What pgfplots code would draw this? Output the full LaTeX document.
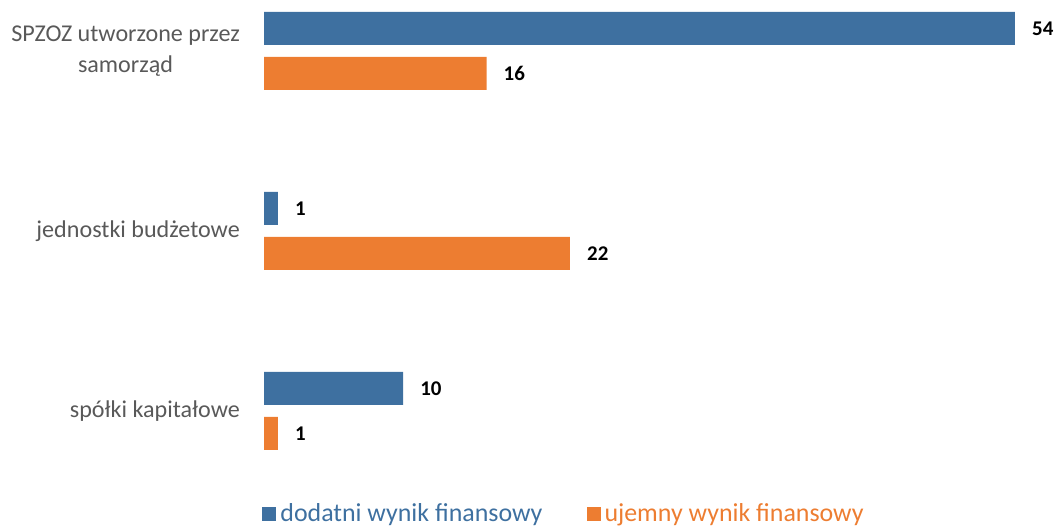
\documentclass[border=0pt]{standalone}
\usepackage{pgfplots}
\pgfplotsset{compat=1.18}
\usepackage{fontspec}
\setmainfont{Carlito}
\definecolor{cblue}{RGB}{62,112,160}
\definecolor{corange}{RGB}{237,125,49}
\definecolor{cgray}{RGB}{89,89,89}
\begin{document}
\begin{tikzpicture}[x=1bp,y=1bp]
\useasboundingbox (0,0) rectangle (1057,531);
\begin{axis}[
  at={(264bp,75bp)}, anchor=south west,
  scale only axis, width=792.7bp, height=450bp,
  xbar, xmin=0, xmax=57, ymin=-0.25, ymax=2.25, y dir=reverse,
  axis line style={draw=none}, xtick=\empty,
  ytick={0,1,2},
  yticklabels={{SPZOZ utworzone przez\\samorząd},{jednostki budżetowe},{spółki kapitałowe}},
  major tick length=0pt,
  bar width=33bp,
  yticklabel style={font=\fontsize{24.2}{31}\selectfont, text=cgray, align=center, inner sep=0pt, xshift=-24bp},
  nodes near coords,
  nodes near coords style={font=\bfseries\fontsize{21}{24}\selectfont, text=black, anchor=west, inner sep=0pt, xshift=17bp, /pgf/number format/assume math mode=true},
  legend style={at={(0.3785,-0.128)}, anchor=center, draw=none, fill=none, legend columns=2,
    font=\fontsize{26}{29}\selectfont,
    /tikz/every even column/.append style={column sep=42bp}},
  legend image code/.code={\fill[#1, draw=none] (0bp,-7bp) rectangle (14bp,7bp);},
]
\addplot[fill=cblue, draw=none, bar shift=22.5bp] coordinates {(54,0) (1,1) (10,2)};
\addplot[fill=corange, draw=none, bar shift=-22.5bp] coordinates {(16,0) (22,1) (1,2)};
\legend{\hspace{2bp}\textcolor{cblue}{dodatni wynik finansowy},\hspace{2bp}\textcolor{corange}{ujemny wynik finansowy}}
\end{axis}
\end{tikzpicture}
\end{document}
